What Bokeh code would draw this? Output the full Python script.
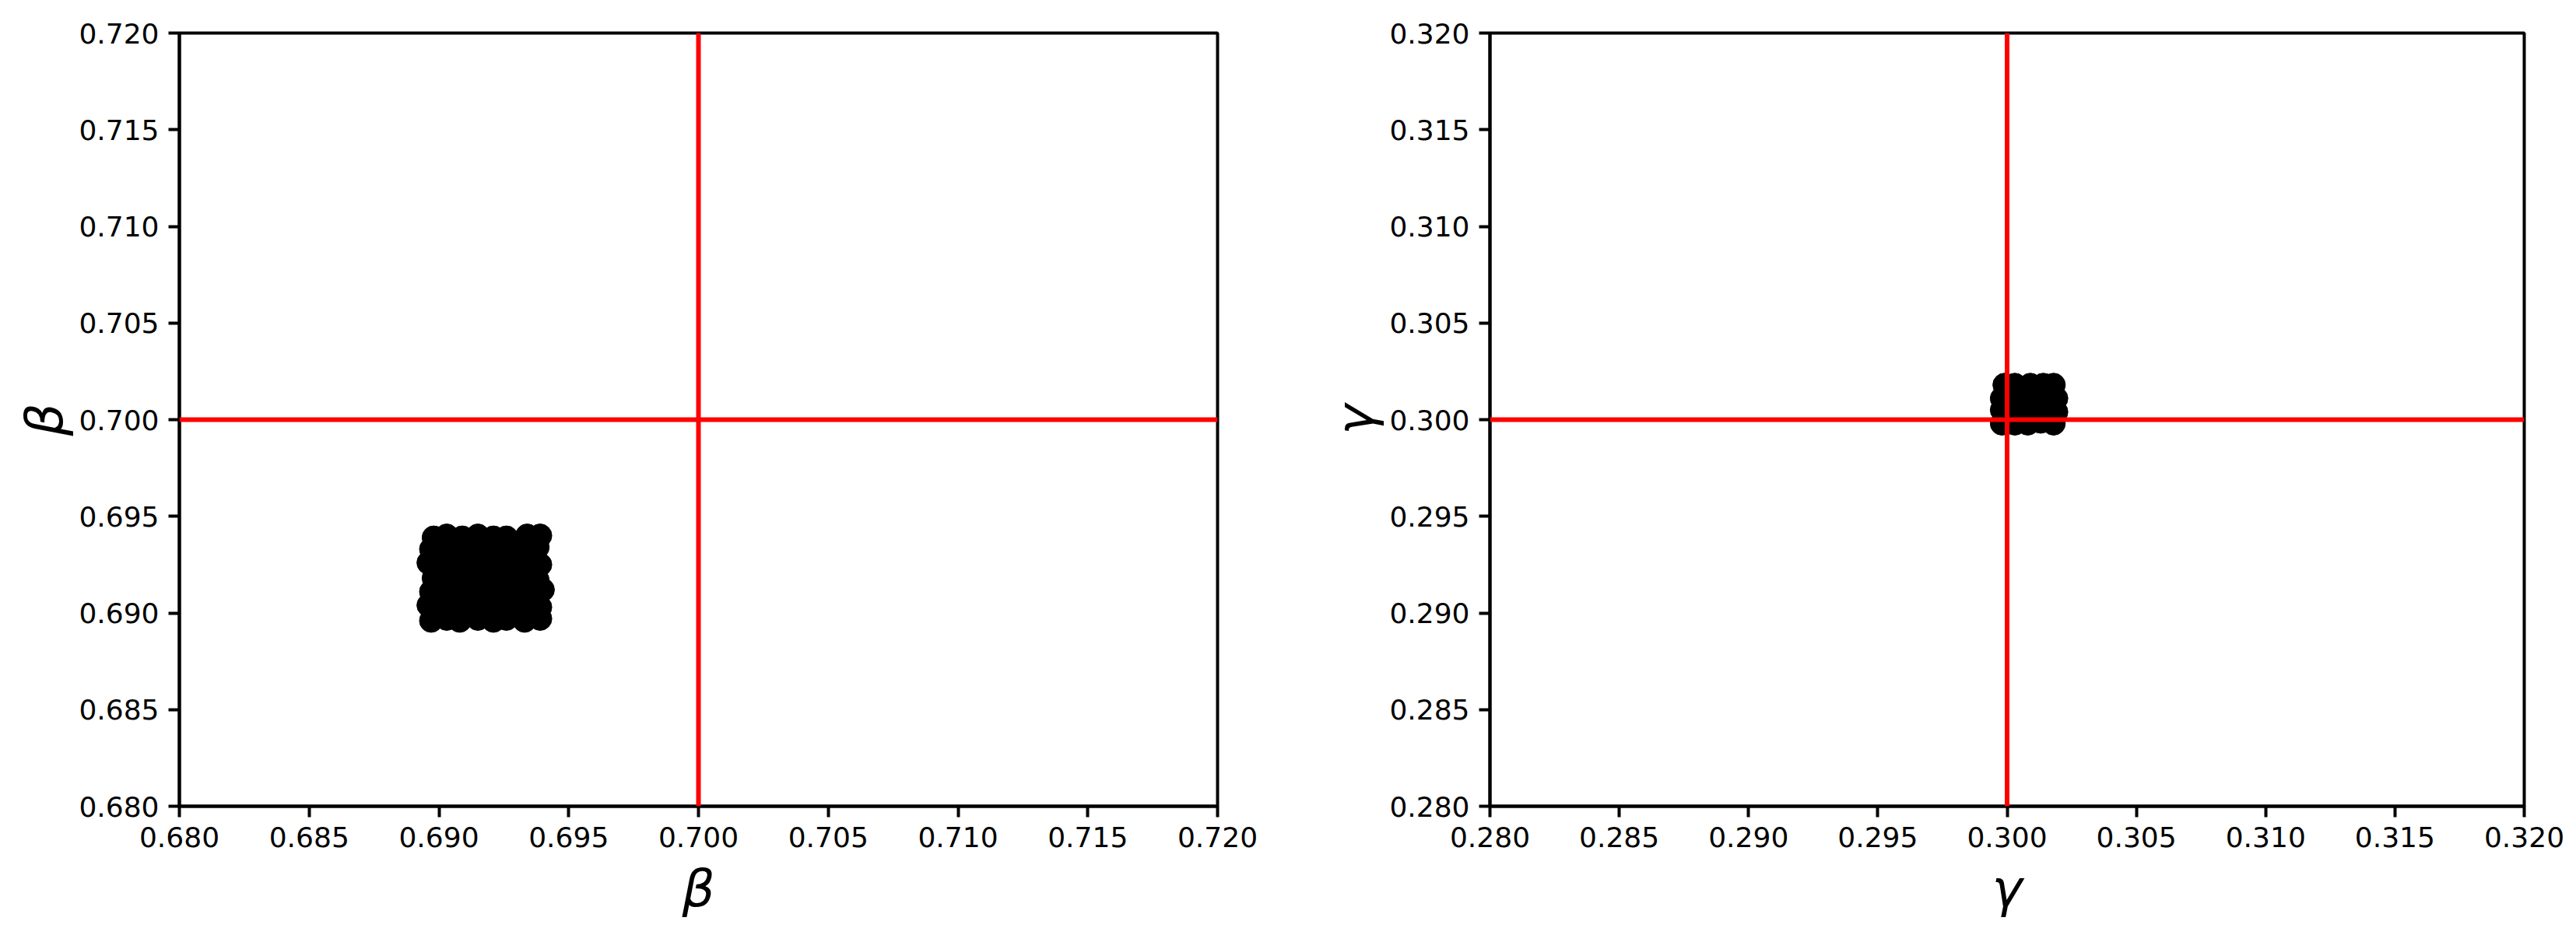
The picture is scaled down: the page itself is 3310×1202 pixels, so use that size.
from bokeh.plotting import figure
from bokeh.layouts import row
from bokeh.models import Range1d, FixedTicker, Span, ColumnDataSource
from bokeh.embed import file_html
from bokeh.resources import INLINE

# ---- data ----
beta_ticks = [0.680, 0.685, 0.690, 0.695, 0.700, 0.705, 0.710, 0.715, 0.720]
beta_tick_labels = ["0.680", "0.685", "0.690", "0.695", "0.700", "0.705", "0.710", "0.715", "0.720"]
gamma_ticks = [0.280, 0.285, 0.290, 0.295, 0.300, 0.305, 0.310, 0.315, 0.320]
gamma_tick_labels = ["0.280", "0.285", "0.290", "0.295", "0.300", "0.305", "0.310", "0.315", "0.320"]

beta_true = 0.700
gamma_true = 0.300

beta_x = [
    0.6897, 0.6903, 0.6908, 0.6915, 0.6921, 0.6926, 0.6933, 0.6939,
    0.6896, 0.6902, 0.6909, 0.6916, 0.6920, 0.6927, 0.6934, 0.6939,
    0.6897, 0.6904, 0.6910, 0.6914, 0.6921, 0.6928, 0.6932, 0.6940,
    0.6898, 0.6903, 0.6909, 0.6916, 0.6922, 0.6927, 0.6933, 0.6938,
    0.6896, 0.6902, 0.6908, 0.6915, 0.6921, 0.6928, 0.6934, 0.6939,
    0.6897, 0.6904, 0.6910, 0.6914, 0.6920, 0.6927, 0.6933, 0.6938,
    0.6898, 0.6903, 0.6909, 0.6915, 0.6921, 0.6926, 0.6934, 0.6939,
]
beta_y = [
    0.6896, 0.6897, 0.6896, 0.6897, 0.6896, 0.6897, 0.6896, 0.6897,
    0.6904, 0.6903, 0.6904, 0.6903, 0.6903, 0.6904, 0.6904, 0.6903,
    0.6911, 0.6912, 0.6910, 0.6911, 0.6912, 0.6910, 0.6911, 0.6912,
    0.6918, 0.6917, 0.6919, 0.6918, 0.6917, 0.6919, 0.6918, 0.6917,
    0.6926, 0.6925, 0.6926, 0.6926, 0.6925, 0.6926, 0.6926, 0.6925,
    0.6933, 0.6934, 0.6932, 0.6933, 0.6934, 0.6932, 0.6933, 0.6934,
    0.6939, 0.6940, 0.6939, 0.6940, 0.6939, 0.6939, 0.6940, 0.6940,
]

gamma_x = [
    0.2998, 0.3003, 0.3008, 0.3013, 0.3018,
    0.2998, 0.3003, 0.3009, 0.3014, 0.3019,
    0.2998, 0.3004, 0.3008, 0.3013, 0.3019,
    0.2999, 0.3003, 0.3009, 0.3014, 0.3018,
]
gamma_y = [
    0.2998, 0.2998, 0.2998, 0.2999, 0.2998,
    0.3005, 0.3004, 0.3005, 0.3005, 0.3004,
    0.3011, 0.3011, 0.3012, 0.3011, 0.3011,
    0.3018, 0.3018, 0.3018, 0.3018, 0.3018,
]


def make_panel(xs, ys, ticks, tick_labels, lo, hi, true_val, label,
               width, border_left, border_right):
    p = figure(width=width, height=1194, output_backend="svg", toolbar_location=None,
               x_range=Range1d(lo, hi), y_range=Range1d(lo, hi),
               min_border_left=border_left, min_border_right=border_right,
               min_border_top=42, min_border_bottom=158)
    p.grid.visible = False
    p.outline_line_color = "black"
    p.outline_line_width = 4
    p.outline_line_alpha = 1.0
    overrides = {t: s for t, s in zip(ticks, tick_labels)}
    for ax in (p.xaxis[0], p.yaxis[0]):
        ax.ticker = FixedTicker(ticks=ticks)
        ax.major_label_overrides = overrides
        ax.axis_line_width = 4
        ax.axis_line_color = "black"
        ax.major_tick_line_width = 4
        ax.major_tick_line_color = "black"
        ax.major_tick_in = 0
        ax.major_tick_out = 14
        ax.minor_tick_line_color = None
        ax.major_label_text_font = "DejaVu Sans"
        ax.major_label_text_font_size = "36px"
        ax.major_label_text_color = "black"
        ax.major_label_standoff = 12
        ax.axis_label = label
        ax.axis_label_text_font = "DejaVu Sans"
        ax.axis_label_text_font_style = "italic"
        ax.axis_label_text_font_size = "66px"
        ax.axis_label_text_color = "black"
    p.xaxis[0].axis_label_standoff = 12
    p.yaxis[0].axis_label_standoff = 2
    src = ColumnDataSource(dict(x=xs, y=ys))
    p.scatter("x", "y", source=src, size=30, fill_color="black", line_color="black")
    p.add_layout(Span(location=true_val, dimension="height", line_color="#ff0000", line_width=6))
    p.add_layout(Span(location=true_val, dimension="width", line_color="#ff0000", line_width=6))
    return p


p1 = make_panel(beta_x, beta_y, beta_ticks, beta_tick_labels, 0.68, 0.72, beta_true, "β",
                1700, 230, 136)
p2 = make_panel(gamma_x, gamma_y, gamma_ticks, gamma_tick_labels, 0.28, 0.32, gamma_true, "γ",
                1602, 208, 59)

layout = row(p1, p2)
open("out.html", "w").write(file_html(layout, INLINE))
